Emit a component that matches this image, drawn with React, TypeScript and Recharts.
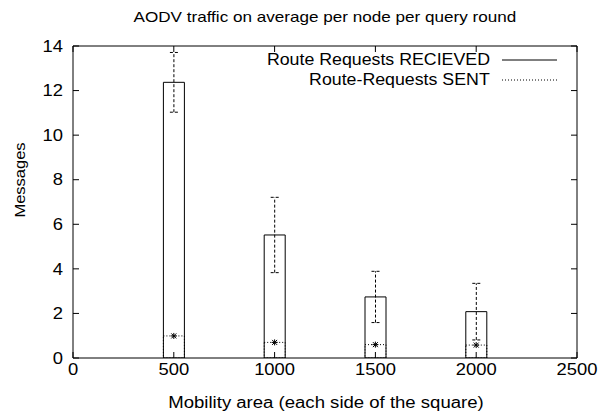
import React from 'react';
import { ComposedChart, Bar, Scatter, XAxis, YAxis, ErrorBar, Legend, Label } from 'recharts';

const areas = [500, 1000, 1500, 2000];
const received = [12.37, 5.52, 2.74, 2.08];
const receivedErr = [1.34, 1.69, 1.15, 1.27];
const sent = [0.99, 0.7, 0.6, 0.58];
const xTicks = [0, 500, 1000, 1500, 2000, 2500];
const yTicks = [0, 2, 4, 6, 8, 10, 12, 14];

const data = areas.map((a, i) => ({ area: a, received: received[i], receivedErr: receivedErr[i], sent: sent[i] }));

const FONT = '"Liberation Sans", Arial, Helvetica, sans-serif';
const TICK_FS = 16;
const TICK_SX = 1.15;

const Star = (props: any) => {
  const { cx, cy } = props;
  if (cx == null || cy == null) return null;
  const r = 2.5;
  return (
    <g stroke="#000" strokeWidth={1}>
      <line x1={cx - r} y1={cy - r} x2={cx + r} y2={cy + r} />
      <line x1={cx - r} y1={cy + r} x2={cx + r} y2={cy - r} />
      <line x1={cx - r - 0.5} y1={cy} x2={cx + r + 0.5} y2={cy} />
      <line x1={cx} y1={cy - r - 0.5} x2={cx} y2={cy + r + 0.5} />
    </g>
  );
};

const XTick = (props: any) => {
  const { x, y, payload } = props;
  return (
    <text transform={`translate(${x},${y}) scale(${TICK_SX},1)`} textAnchor="middle" dy="0.71em" fill="#000" fontSize={TICK_FS} fontFamily={FONT}>
      {payload.value}
    </text>
  );
};

const YTick = (props: any) => {
  const { x, y, payload } = props;
  return (
    <text transform={`translate(${x},${y}) scale(${TICK_SX},1)`} textAnchor="end" dy="0.355em" fill="#000" fontSize={TICK_FS} fontFamily={FONT}>
      {payload.value}
    </text>
  );
};

const EmptyTick = () => <g />;

const LegendContent = () => (
  <div style={{ fontFamily: FONT, fontSize: 16, color: '#000' }}>
    {[
      { name: 'Route Requests RECIEVED', dash: undefined },
      { name: 'Route-Requests SENT', dash: '1 2' },
    ].map((it) => (
      <div key={it.name} style={{ display: 'flex', justifyContent: 'flex-end', alignItems: 'center', height: 20 }}>
        <span style={{ whiteSpace: 'nowrap', display: 'inline-block', transform: 'scaleX(1.11)', transformOrigin: 'right center' }}>{it.name}</span>
        <svg width={55} height={10} style={{ marginLeft: 12 }}>
          <line x1={0} y1={5} x2={55} y2={5} stroke="#000" strokeWidth={1} strokeDasharray={it.dash} />
        </svg>
      </div>
    ))}
  </div>
);

export default function App() {
  return (
    <div style={{ position: 'absolute', left: 0, top: 0, width: 603, height: 415, background: '#fff' }}>
      <div style={{ position: 'absolute', left: 0, width: 650, top: 8, textAlign: 'center', fontFamily: FONT, fontSize: 15, color: '#000' }}>
        <span style={{ display: 'inline-block', transform: 'scaleX(1.14)' }}>AODV traffic on average per node per query round</span>
      </div>
      <ComposedChart width={603} height={415} data={data} margin={{ top: 45, right: 25, bottom: 27, left: 33 }}>
        <XAxis
          xAxisId="b"
          dataKey="area"
          type="number"
          domain={[0, 2500]}
          ticks={xTicks}
          allowDataOverflow
          tickSize={-6}
          tickMargin={12}
          height={30}
          stroke="#000"
          tick={<XTick />}
        >
          <Label
            content={() => (
              <text transform="translate(326,402) scale(1.16,1)" textAnchor="middle" dominantBaseline="central" fill="#000" fontSize={16} fontFamily={FONT}>
                Mobility area (each side of the square)
              </text>
            )}
          />
        </XAxis>
        <XAxis
          xAxisId="t"
          orientation="top"
          dataKey="area"
          type="number"
          domain={[0, 2500]}
          ticks={xTicks}
          allowDataOverflow
          tickSize={-6}
          height={1}
          tick={<EmptyTick />}
          stroke="#000"
        />
        <YAxis
          yAxisId="l"
          type="number"
          domain={[0, 14]}
          ticks={yTicks}
          allowDataOverflow
          tickSize={-6}
          tickMargin={16}
          width={40}
          stroke="#000"
          tick={<YTick />}
        >
          <Label
            content={() => (
              <text transform="translate(20,180) rotate(-90) scale(1.1,1)" textAnchor="middle" dominantBaseline="central" fill="#000" fontSize={15} fontFamily={FONT}>
                Messages
              </text>
            )}
          />
        </YAxis>
        <YAxis
          yAxisId="r"
          orientation="right"
          type="number"
          domain={[0, 14]}
          ticks={yTicks}
          allowDataOverflow
          tickSize={-6}
          width={1}
          tick={<EmptyTick />}
          stroke="#000"
        />
        <Legend
          verticalAlign="middle"
          layout="horizontal"
          content={<LegendContent />}
          wrapperStyle={{ position: 'absolute', top: 50, left: 250, width: 307, height: 40 }}
        />
        <Bar xAxisId="b" yAxisId="l" dataKey="received" barSize={21} fill="#fff" stroke="#000" strokeWidth={1} isAnimationActive={false}>
          <ErrorBar dataKey="receivedErr" width={4} stroke="#000" strokeWidth={1} strokeDasharray="3 2" isAnimationActive={false} />
        </Bar>
        <Bar xAxisId="t" yAxisId="l" dataKey="sent" barSize={21} fill="none" stroke="#000" strokeWidth={1} strokeDasharray="1 2" isAnimationActive={false} />
        <Scatter xAxisId="t" yAxisId="l" dataKey="sent" shape={<Star />} isAnimationActive={false} />
      </ComposedChart>
    </div>
  );
}
